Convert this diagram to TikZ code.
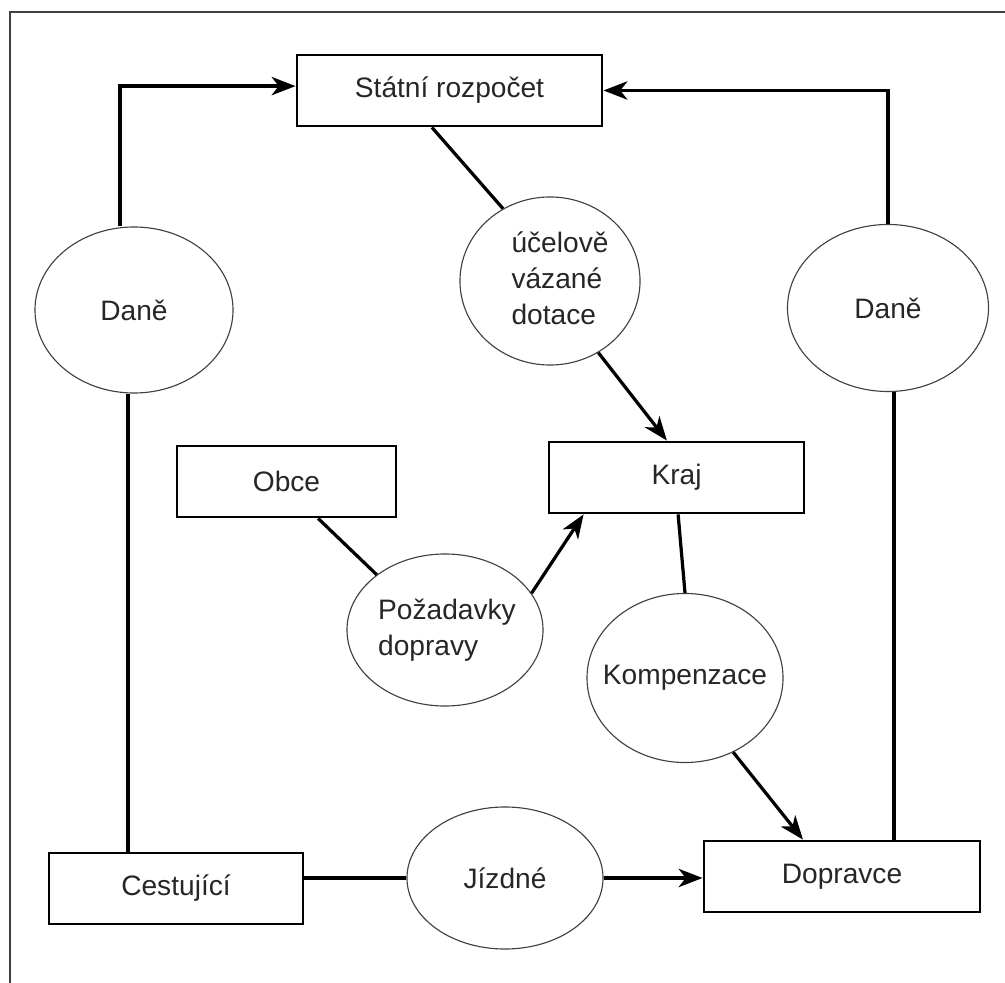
\documentclass[tikz,border=0pt]{standalone}
\usepackage{fontspec}
\setmainfont{Liberation Sans}
\usepackage{tikz}
\usetikzlibrary{shapes,arrows,positioning,shapes.geometric,arrows.meta}
\tikzstyle{box} = [rectangle, draw=black, line width=2pt, text=black!85,
    minimum height=1.775cm, inner sep=0pt, font=\fontsize{20pt}{25.5pt}\selectfont]
\tikzstyle{oval} = [ellipse, draw=black!75, line width=0.8pt, text=black!85,
    inner sep=0pt, font=\fontsize{20pt}{25.5pt}\selectfont]
\tikzstyle{link} = [line width=2.3pt, black]
\tikzstyle{flow} = [link, -{Stealth[length=17pt, width=13pt, inset=5pt]}]
\tikzstyle{frame} = [line width=1.4pt, black!75]

\begin{document}
\begin{tikzpicture}[x=0.025cm, y=-0.025cm]
        \useasboundingbox (0,0) rectangle (1005,983);
        \draw[frame] (10,983) -- (10,12) -- (1005,12);

        % boxes
        \node[box, minimum width=7.625cm] (rozpocet) at (449.5,90.5) {St\'atn\'i rozpo\v{c}et};
        \node[box, minimum width=6.375cm] (kraj) at (676.5,477.5) {Kraj};
        \node[box, minimum width=5.475cm] (obce) at (286.5,481.5) {Obce};
        \node[box, minimum width=6.9cm] (dopravce) at (842,876.5) {Dopravce};
        \node[box, minimum width=6.35cm] (cestujici) at (176,888.5) {Cestuj\'ic\'i};

        % flows
        \node[oval, minimum width=4.95cm, minimum height=4.15cm] (daneL) at (134,310) {\makebox[0pt]{Dan\v{e}}};
        \node[oval, minimum width=5.025cm, minimum height=4.175cm] (daneR) at (888,308) {\makebox[0pt]{Dan\v{e}}};
        \node[oval, minimum width=4.5cm, minimum height=4.2cm] (dotace) at (550,281) {
            \makebox[0pt]{\hspace{0.5cm}\begin{tabular}{@{}l@{}}
                \'u\v{c}elov\v{e} \\
                v\'azan\'e \\
                dotace
            \end{tabular}}
        };
        \node[oval, minimum width=4.9cm, minimum height=3.8cm] (pozadavky) at (445,630) {
            \makebox[0pt]{\hspace{0.1cm}\begin{tabular}{@{}l@{}}
                Po\v{z}adavky \\
                dopravy
            \end{tabular}}
        };
        \node[oval, minimum width=4.9cm, minimum height=4.225cm] (kompenzace) at (685,678) {\makebox[0pt]{Kompenzace}};
        \node[oval, minimum width=4.9cm, minimum height=3.55cm] (jizdne) at (505,878) {\makebox[0pt]{J\'izdn\'e}};

        % connectors
        \draw[flow] ([xshift=-0.35cm]daneL.north) |- ([yshift=0.11cm]rozpocet.west);
        \draw[link] ([xshift=-0.15cm]daneL.south) -- ([xshift=-0.15cm]daneL.south |- cestujici.north);
        \draw[flow] (daneR.north) |- (rozpocet.east);
        \draw[link] ([xshift=0.15cm]daneR.south) -- ([xshift=0.15cm]daneR.south |- dopravce.north);
        \draw[link] ([xshift=-0.44cm]rozpocet.south) -- (dotace.123);
        \draw[flow] (dotace.304) -- ([xshift=-0.24cm]kraj.north);
        \draw[link] ([xshift=0.79cm]obce.south) -- (pozadavky.141);
        \draw[flow] (pozadavky.23) -- ([xshift=0.9cm]kraj.south west);
        \draw[link] ([xshift=0.04cm]kraj.south) -- (kompenzace.north);
        \draw[flow] (kompenzace.303) -- ([xshift=-0.975cm]dopravce.north);
        \draw[link] (jizdne.west -| cestujici.east) -- (jizdne.west);
        \draw[flow] (jizdne.east) -- (jizdne.east -| dopravce.west);
    \end{tikzpicture}
\end{document}
